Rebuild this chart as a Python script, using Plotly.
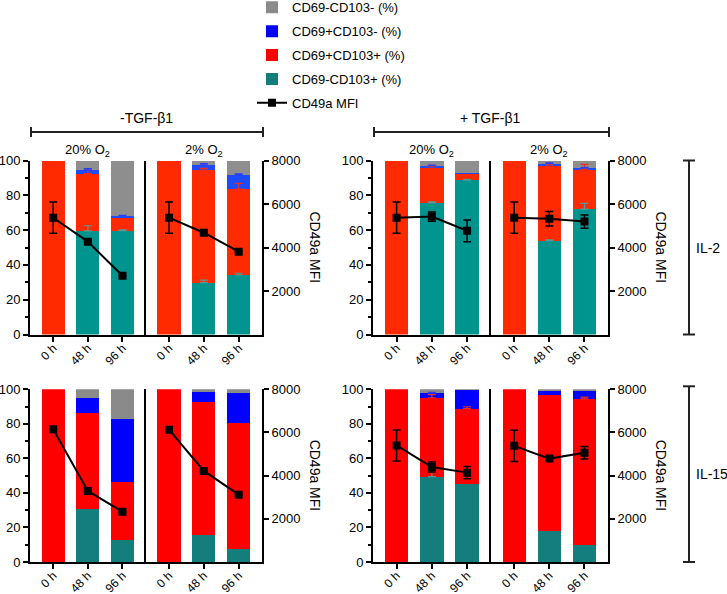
import plotly.graph_objects as go

W, H = 727, 594

times = ["0 h", "48 h", "96 h"]
o2_labels = ["20% O<sub>2</sub>", "2% O<sub>2</sub>"]
tgf_labels = ["-TGF-β1", "+ TGF-β1"]
il_labels = ["IL-2", "IL-15"]
series_names = ["CD69-CD103+ (%)", "CD69+CD103+ (%)", "CD69+CD103- (%)", "CD69-CD103- (%)"]
mfi_name = "CD49a MFI"

# every list: 20% O2 (0 h, 48 h, 96 h) followed by 2% O2 (0 h, 48 h, 96 h)
# Panel A: -TGF-β1, IL-2
a_teal = [0, 59.5, 59.7, 0, 29.8, 34.2]
a_red = [100, 33.0, 7.6, 100, 64.7, 49.4]
a_blue = [0, 2.0, 0.8, 0, 2.9, 8.1]
a_gray = [0, 5.5, 31.9, 0, 2.6, 8.3]
a_teal_err = [None, 3.0, 0.4, None, 1.5, 1.0]
a_red_err = [None, 2.7, None, None, 1.0, 3.3]
a_blue_err = [None, 0.8, 0.4, None, 0.8, 0.6]
a_mfi = [5370, 4270, 2700, 5370, 4680, 3810]
a_mfi_err = [720, 0, 0, 720, 0, 0]

# Panel B: +TGF-β1, IL-2
b_teal = [0, 75.7, 88.8, 0, 53.9, 72.1]
b_red = [100, 20.7, 3.8, 100, 43.5, 22.8]
b_blue = [0, 0.6, 0.3, 0, 0.8, 0.8]
b_gray = [0, 3.0, 7.1, 0, 1.8, 4.3]
b_teal_err = [None, 0.6, 0.4, None, 0.5, 3.3]
b_red_err = [None, 0.4, None, None, 0.4, 2.9]
b_blue_err = [None, 0.3, None, None, 0.4, 0.3]
b_mfi = [5370, 5420, 4770, 5370, 5320, 5190]
b_mfi_err = [720, 215, 500, 720, 330, 305]

# Panel C: -TGF-β1, IL-15
c_teal = [0, 30.5, 12.9, 0, 15.5, 7.3]
c_red = [100, 55.8, 33.2, 100, 77.1, 73.2]
c_blue = [0, 8.5, 36.5, 0, 6.0, 17.2]
c_gray = [0, 5.2, 17.4, 0, 1.4, 2.3]
c_teal_err = [None] * 6
c_red_err = [None] * 6
c_blue_err = [None] * 6
c_mfi = [6150, 3290, 2330, 6130, 4220, 3120]
c_mfi_err = [0, 0, 0, 0, 0, 0]

# Panel D: +TGF-β1, IL-15
d_teal = [0, 49.4, 45.2, 0, 18.0, 9.7]
d_red = [100, 45.7, 43.6, 100, 78.5, 84.7]
d_blue = [0, 2.6, 10.9, 0, 2.5, 4.8]
d_gray = [0, 2.3, 0.3, 0, 1.0, 0.8]
d_teal_err = [None, 3.5, None, None, None, None]
d_red_err = [None, 1.8, 1.1, None, None, 1.1]
d_blue_err = [None, 0.5, None, None, None, None]
d_mfi = [5400, 4400, 4140, 5380, 4790, 5060]
d_mfi_err = [720, 230, 285, 720, 100, 290]

panels = [
    (0, 0, [a_teal, a_red, a_blue, a_gray], [a_teal_err, a_red_err, a_blue_err], a_mfi, a_mfi_err),
    (0, 1, [b_teal, b_red, b_blue, b_gray], [b_teal_err, b_red_err, b_blue_err], b_mfi, b_mfi_err),
    (1, 0, [c_teal, c_red, c_blue, c_gray], [c_teal_err, c_red_err, c_blue_err], c_mfi, c_mfi_err),
    (1, 1, [d_teal, d_red, d_blue, d_gray], [d_teal_err, d_red_err, d_blue_err], d_mfi, d_mfi_err),
]

# ---- styling / geometry (pixels) ----
FONT = "Liberation Sans, Arial, sans-serif"
top_colors = ["#00948F", "#FF2A00", "#1E4BFF", "#8E8E8E"]
bot_colors = ["#137E7B", "#FF0000", "#0000FF", "#8A8A8A"]
err_colors = ["#5E9896", "#E8301C", "#2A3CFF"]
panel_x = [(30, 145.7, 262), (373, 490.7, 608)]
panel_y = [(160.5, 334.5), (389.3, 562)]
legend_rank = [4, 3, 2, 1]


def fx(v):
    return v / W


def fy(v):
    return 1 - v / H


def ax_key(prefix, k):
    return prefix + ("" if k == 1 else str(k))


fig = go.Figure()
lay = {}
tick_font = dict(family=FONT, size=13, color="black")
xtick_font = dict(family=FONT, size=12, color="black")

k = 0
for row, col, segs, seg_errs, mfi, mfi_err in panels:
    xl, xm, xr = panel_x[col]
    yt, yb = panel_y[row]
    colors = top_colors if row == 0 else bot_colors
    for g in range(2):
        k += 1
        xa, ya, ya2 = f"x{k}", f"y{k}", f"y{k + 8}"
        sl = slice(3 * g, 3 * g + 3)
        legend_on = (k == 5)
        # stacked bars
        for i, vals in enumerate(segs):
            fig.add_trace(go.Bar(
                x=times, y=vals[sl], xaxis=xa, yaxis=ya,
                name=series_names[i], marker=dict(color=colors[i], line=dict(width=0)),
                showlegend=legend_on, legendgroup=series_names[i], legendrank=legend_rank[i],
                hoverinfo="skip"))
        # segment error bars (upper only) at each segment top
        cum = [0, 0, 0]
        for i in range(3):
            cum = [c + v for c, v in zip(cum, segs[i][sl])]
            errs = seg_errs[i][sl]
            ys = [c if e is not None else None for c, e in zip(cum, errs)]
            if all(y is None for y in ys):
                continue
            fig.add_trace(go.Scatter(
                x=times, y=ys, xaxis=xa, yaxis=ya, mode="markers",
                marker=dict(size=1, opacity=0), showlegend=False, hoverinfo="skip",
                error_y=dict(type="data", array=[e if e is not None else 0 for e in errs],
                             arrayminus=[0, 0, 0], symmetric=False,
                             color=err_colors[i], thickness=1.2, width=4)))
        # MFI line
        fig.add_trace(go.Scatter(
            x=times, y=mfi[sl], xaxis=xa, yaxis=ya2, mode="lines+markers",
            name=mfi_name, line=dict(color="black", width=2),
            marker=dict(symbol="square", size=8, color="black"),
            error_y=dict(type="data", array=mfi_err[sl], color="black", thickness=1.5, width=4),
            showlegend=legend_on, legendgroup=mfi_name, legendrank=5, hoverinfo="skip"))

        dom_x = [fx(xl), fx(xm)] if g == 0 else [fx(xm), fx(xr)]
        dom_y = [fy(yb), fy(yt)]
        lay[ax_key("xaxis", k)] = dict(
            domain=dom_x, anchor=ya, type="category", categoryorder="array",
            categoryarray=times, range=[-0.67, 2.67], showline=True, linecolor="black",
            linewidth=2, ticks="outside", ticklen=5, tickwidth=2, tickcolor="black",
            tickangle=-45, tickfont=xtick_font, ticklabelstandoff=-5, showgrid=False,
            zeroline=False, automargin=False, fixedrange=True)
        if g == 0:
            lay[ax_key("yaxis", k)] = dict(
                domain=dom_y, anchor=xa, range=[0, 100], tickvals=[0, 20, 40, 60, 80, 100],
                showline=True, linecolor="black", linewidth=2, ticks="outside", ticklen=5,
                tickwidth=2, tickcolor="black", tickfont=tick_font, showgrid=False,
                zeroline=False, automargin=False, fixedrange=True,
                minor=dict(dtick=10, tick0=0, ticks="outside", ticklen=3, tickwidth=1.5,
                           tickcolor="black", showgrid=False))
            lay[ax_key("yaxis", k + 8)] = dict(
                overlaying=ya, anchor=xa, range=[0, 8000], visible=False, fixedrange=True)
        else:
            lay[ax_key("yaxis", k)] = dict(
                domain=dom_y, anchor=xa, range=[0, 100], showline=True, linecolor="black",
                linewidth=2, ticks="", showticklabels=False, showgrid=False, zeroline=False,
                automargin=False, fixedrange=True)
            lay[ax_key("yaxis", k + 8)] = dict(
                overlaying=ya, anchor=xa, side="right", range=[0, 8000],
                tickvals=[2000, 4000, 6000, 8000], showline=True, linecolor="black",
                linewidth=2, ticks="outside", ticklen=5, tickwidth=2, tickcolor="black",
                tickfont=tick_font, showgrid=False, zeroline=False, automargin=False,
                fixedrange=True)

annotations = []
shapes = []
line_style = dict(color="#222222", width=2)


def note(x, y, text, size=14, xanchor="center", angle=0):
    annotations.append(dict(x=fx(x), y=fy(y), xref="paper", yref="paper", text=text,
                            showarrow=False, xanchor=xanchor, yanchor="middle",
                            textangle=angle, font=dict(family=FONT, size=size, color="black")))


for col in range(2):
    xl, xm, xr = panel_x[col]
    # O2 group headers (top row only)
    for g in range(2):
        cx = (xl + xm) / 2 if g == 0 else (xm + xr) / 2
        note(cx, 150, o2_labels[g], size=13)
    # TGF bracket
    note((xl + xr) / 2, 118, tgf_labels[col], size=14)
    bx0, bx1 = xl + 1, xr + 1
    shapes.append(dict(type="line", xref="paper", yref="paper", x0=fx(bx0), x1=fx(bx1),
                       y0=fy(132), y1=fy(132), line=line_style))
    for bx in (bx0, bx1):
        shapes.append(dict(type="line", xref="paper", yref="paper", x0=fx(bx), x1=fx(bx),
                           y0=fy(127), y1=fy(137), line=line_style))
    # right axis titles
    for row in range(2):
        yt, yb = panel_y[row]
        note(xr + 53, (yt + yb) / 2, mfi_name, size=14, angle=90)

# IL brackets on the right
for row in range(2):
    yt, yb = panel_y[row]
    if row == 1:
        yt -= 3
    shapes.append(dict(type="line", xref="paper", yref="paper", x0=fx(689), x1=fx(689),
                       y0=fy(yt), y1=fy(yb), line=line_style))
    for by in (yt, yb):
        shapes.append(dict(type="line", xref="paper", yref="paper", x0=fx(683), x1=fx(695),
                           y0=fy(by), y1=fy(by), line=line_style))
    note(694, (yt + yb) / 2, il_labels[row], size=14, xanchor="left")

fig.update_layout(
    width=W, height=H, margin=dict(l=0, r=0, t=0, b=0, autoexpand=False),
    paper_bgcolor="white", plot_bgcolor="rgba(0,0,0,0)",
    barmode="stack", bargap=0.333,
    showlegend=True,
    legend=dict(x=fx(252), y=1.013, xanchor="left", yanchor="top", traceorder="grouped",
                tracegroupgap=4, font=dict(family=FONT, size=13, color="black"),
                bgcolor="rgba(0,0,0,0)", itemclick=False, itemdoubleclick=False),
    annotations=annotations, shapes=shapes,
    **lay)

fig.write_html("out.html", config={"displayModeBar": False},
               post_script="document.body.style.margin='0px';")
